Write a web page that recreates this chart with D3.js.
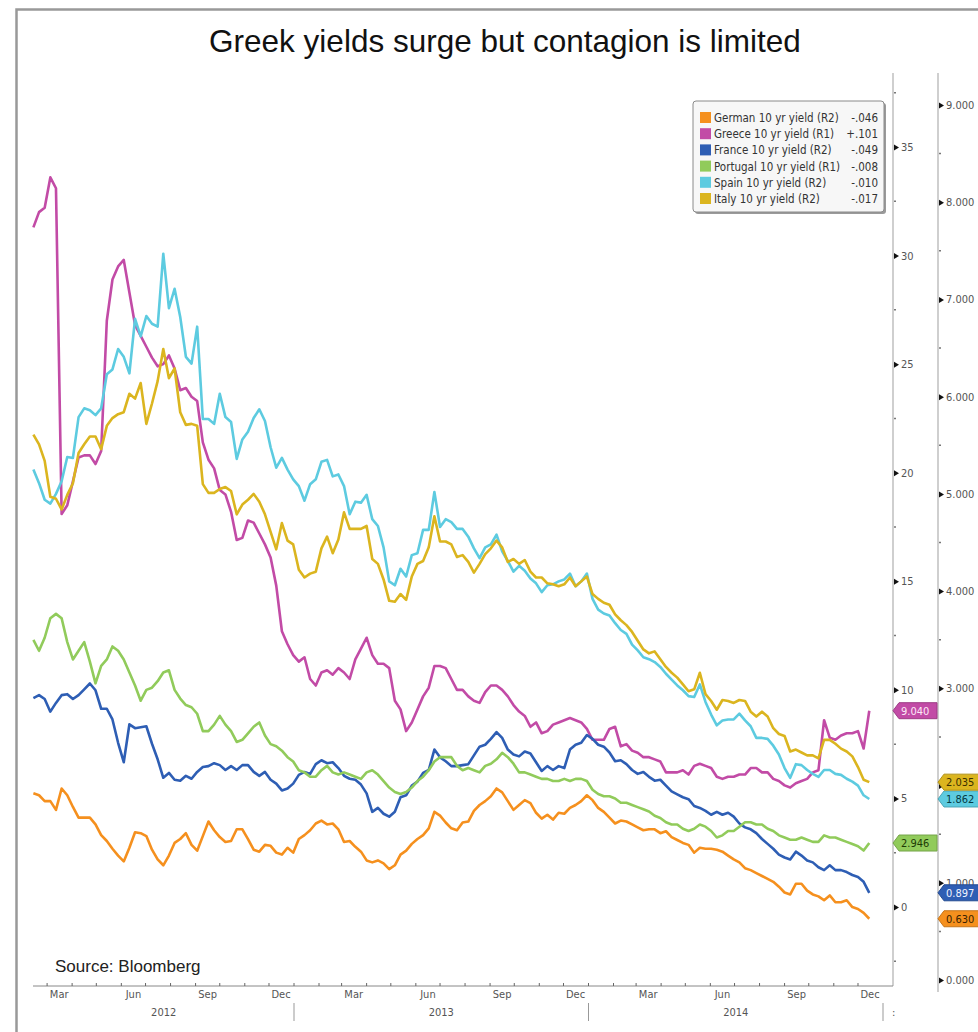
<!DOCTYPE html>
<html>
<head>
<meta charset="utf-8">
<script src="https://cdn.jsdelivr.net/npm/d3@7"></script>
<style>
  body { margin: 0; background: #fff; }
  svg { display: block; }
  .bbg { font-family: "DejaVu Sans Condensed", "DejaVu Sans", sans-serif; font-stretch: condensed; }
</style>
</head>
<body>
<svg id="chart" width="978" height="1032"></svg>
<script>
// weekly closes, first one on 13 Feb 2012
const startDate = new Date(2012, 1, 13);

const german = [
  1.92,1.90,1.84,1.84,1.75,1.97,1.90,1.78,1.67,1.67,
  1.67,1.60,1.49,1.43,1.35,1.28,1.22,1.36,1.52,1.51,
  1.48,1.34,1.24,1.18,1.28,1.41,
  1.45,1.51,1.39,1.33,1.48,1.63,1.54,1.47,1.42,1.43,
  1.55,1.55,1.45,1.34,1.32,1.39,1.38,1.31,1.29,1.36,
  1.31,1.45,1.49,1.54,1.61,
  1.64,1.60,1.61,1.55,1.42,1.43,1.37,1.32,1.23,1.21,
  1.23,1.20,1.14,1.18,1.29,1.33,1.40,1.45,1.49,1.56,
  1.73,1.69,1.62,1.56,1.54,
  1.62,1.63,1.74,1.80,1.84,1.89,1.97,1.93,1.84,1.75,
  1.80,1.85,1.82,1.72,1.66,1.70,1.65,1.72,1.71,1.77,
  1.80,1.84,1.90,1.85,1.77,
  1.73,1.67,1.61,1.64,1.63,1.60,1.57,1.54,1.55,1.55,
  1.51,1.53,1.47,1.44,1.41,1.39,1.31,1.36,1.35,1.35,
  1.34,1.32,1.28,1.24,1.21,
  1.15,1.13,1.10,1.07,1.04,1.01,0.96,0.90,0.88,0.99,
  0.99,0.92,0.88,0.86,0.82,0.87,0.80,0.80,0.82,0.75,
  0.73,0.69,0.63
];

const greece = [
  31.3,32.0,32.2,33.6,33.1,18.1,18.5,19.6,20.7,20.8,
  20.8,20.4,21.0,27.0,28.9,29.5,29.8,28.3,26.8,26.3,
  25.8,25.3,24.9,25.0,25.4,24.8,
  23.8,23.9,23.5,23.3,21.4,20.6,20.2,19.2,19.0,18.2,
  16.9,17.0,17.8,17.7,17.2,16.7,16.1,14.8,12.7,12.1,
  11.6,11.3,11.5,10.5,10.2,
  10.8,10.9,10.7,11.0,10.8,10.5,11.4,11.9,12.4,11.6,
  11.2,11.2,11.0,9.5,9.1,8.1,8.5,9.1,9.7,10.1,
  11.1,11.1,11.0,10.5,10.0,
  10.0,9.7,9.5,9.4,9.9,10.2,10.2,10.0,9.7,9.3,
  9.0,8.8,8.3,8.5,8.0,8.1,8.4,8.5,8.6,8.7,
  8.6,8.5,8.2,7.7,7.7,
  7.7,8.2,8.3,7.4,7.5,7.2,7.1,6.9,6.9,6.8,
  6.7,6.2,6.2,6.2,6.3,6.1,6.5,6.6,6.5,6.4,
  6.0,5.9,6.0,6.0,6.1,
  6.1,6.4,6.4,6.2,6.2,5.9,5.8,5.6,5.5,5.7,
  5.8,5.9,6.2,6.3,8.6,7.8,7.7,7.9,8.0,8.0,
  8.1,7.3,9.04
];

const france = [
  2.90,2.93,2.89,2.76,2.85,2.93,2.94,2.89,2.93,2.99,
  3.05,2.98,2.79,2.79,2.68,2.44,2.24,2.63,2.59,2.60,
  2.61,2.43,2.27,2.08,2.13,2.06,
  2.05,2.10,2.07,2.14,2.19,2.20,2.23,2.21,2.16,2.20,
  2.16,2.21,2.21,2.14,2.10,2.14,2.06,2.02,1.95,1.97,
  2.02,2.11,2.14,2.12,2.22,
  2.26,2.23,2.24,2.18,2.10,2.07,2.06,2.01,1.92,1.73,
  1.77,1.71,1.68,1.73,1.88,1.90,2.00,2.04,2.13,2.16,
  2.37,2.29,2.25,2.20,2.20,
  2.21,2.22,2.31,2.40,2.42,2.48,2.55,2.49,2.37,2.32,
  2.30,2.35,2.33,2.24,2.15,2.20,2.16,2.20,2.18,2.37,
  2.42,2.44,2.52,2.48,2.42,
  2.40,2.34,2.25,2.26,2.22,2.16,2.12,2.14,2.09,2.05,
  2.06,2.00,1.94,1.91,1.88,1.86,1.79,1.77,1.74,1.70,
  1.73,1.70,1.72,1.68,1.61,
  1.57,1.55,1.51,1.45,1.40,1.35,1.29,1.26,1.24,1.32,
  1.28,1.23,1.21,1.16,1.13,1.18,1.13,1.13,1.11,1.08,
  1.06,1.01,0.897
];

const portugal = [
  12.3,11.8,12.4,13.3,13.5,13.3,12.2,11.4,11.8,12.2,
  11.3,10.3,11.1,11.4,12.0,11.8,11.4,10.8,10.2,9.5,
  10.0,10.1,10.4,10.8,10.9,10.0,
  9.6,9.3,9.2,8.9,8.1,8.1,8.4,8.8,8.4,8.1,
  7.6,7.7,8.0,8.3,8.5,7.9,7.5,7.4,7.2,6.9,
  6.7,6.3,6.2,6.0,6.0,
  6.3,6.5,6.2,6.1,6.2,6.1,6.0,5.9,6.2,6.3,
  6.1,5.8,5.5,5.3,5.2,5.3,5.5,5.8,6.0,6.3,
  6.7,6.9,6.9,6.9,6.5,
  6.3,6.4,6.3,6.2,6.5,6.6,6.8,7.1,6.9,6.6,
  6.2,6.2,6.1,6.0,5.9,5.9,5.8,5.8,5.9,5.8,
  5.9,5.9,5.8,5.4,5.2,
  5.1,5.1,5.0,4.8,4.8,4.7,4.6,4.5,4.4,4.2,
  4.1,3.9,3.8,3.8,3.6,3.5,3.6,3.8,3.7,3.5,
  3.2,3.3,3.5,3.5,3.7,
  3.9,3.9,3.8,3.8,3.6,3.5,3.3,3.2,3.1,3.1,
  3.2,3.1,3.0,3.0,3.3,3.2,3.2,3.1,3.0,2.9,
  2.8,2.6,2.946
];

const spain = [
  5.25,5.11,4.94,4.90,5.00,5.13,5.38,5.37,5.79,5.88,
  5.86,5.81,5.88,6.23,6.28,6.49,6.41,6.24,6.80,6.62,
  6.83,6.75,6.72,7.47,6.91,7.11,
  6.82,6.41,6.34,6.72,5.77,5.77,5.72,6.03,5.79,5.74,
  5.36,5.56,5.64,5.78,5.87,5.75,5.48,5.27,5.37,5.25,
  5.15,5.08,4.93,5.10,5.15,
  5.33,5.35,5.18,5.20,5.08,4.79,4.92,4.91,4.99,4.74,
  4.67,4.45,4.10,4.06,4.23,4.15,4.37,4.39,4.63,4.63,
  5.02,4.66,4.74,4.71,4.64,
  4.64,4.56,4.44,4.34,4.45,4.48,4.58,4.41,4.31,4.20,
  4.26,4.21,4.13,4.08,3.99,4.06,4.07,4.10,4.12,4.18,
  4.05,4.10,4.18,3.92,3.81,
  3.77,3.75,3.67,3.60,3.56,3.45,3.39,3.32,3.30,3.27,
  3.22,3.15,3.09,3.03,2.98,2.92,2.91,3.04,2.86,2.73,
  2.62,2.67,2.68,2.68,2.74,
  2.67,2.61,2.49,2.49,2.48,2.41,2.32,2.18,2.08,2.22,
  2.21,2.16,2.12,2.09,2.16,2.16,2.12,2.11,2.07,2.04,
  2.00,1.90,1.862
];

const italy = [
  5.61,5.51,5.34,4.97,4.95,4.84,4.99,5.11,5.42,5.51,
  5.59,5.59,5.46,5.70,5.78,5.82,5.84,6.03,5.98,6.14,
  5.72,5.93,6.16,6.49,6.19,6.29,
  5.84,5.71,5.72,5.70,5.10,5.01,5.01,5.05,5.07,5.03,
  4.79,4.89,4.94,5.00,4.92,4.79,4.61,4.43,4.70,4.52,
  4.48,4.22,4.14,4.18,4.20,
  4.44,4.56,4.39,4.53,4.81,4.64,4.64,4.64,4.67,4.33,
  4.28,4.12,3.90,3.89,3.97,3.91,4.15,4.28,4.31,4.45,
  4.77,4.51,4.51,4.48,4.35,
  4.37,4.30,4.19,4.28,4.38,4.44,4.52,4.45,4.30,4.33,
  4.28,4.32,4.20,4.14,4.14,4.08,4.07,4.05,4.07,4.14,
  4.05,4.10,4.15,3.97,3.92,
  3.88,3.86,3.76,3.70,3.65,3.58,3.49,3.40,3.36,3.38,
  3.30,3.22,3.16,3.11,3.04,2.97,2.99,3.16,2.94,2.87,
  2.78,2.88,2.87,2.85,2.88,
  2.87,2.76,2.71,2.76,2.71,2.59,2.53,2.51,2.35,2.37,
  2.34,2.31,2.31,2.28,2.47,2.47,2.43,2.38,2.35,2.30,
  2.19,2.06,2.035
];

const seriesNames = ['German 10 yr yield (R2)', 'Greece 10 yr yield (R1)', 'France 10 yr yield (R2)',
  'Portugal 10 yr yield (R1)', 'Spain 10 yr yield (R2)', 'Italy 10 yr yield (R2)'];
const seriesChange = ['-.046', '+.101', '-.049', '-.008', '-.010', '-.017'];
const seriesAxis = ['R2', 'R1', 'R2', 'R1', 'R2', 'R2'];
const lastLabels = ['0.630', '9.040', '0.897', '2.946', '1.862', '2.035'];
const r1Ticks = [0, 5, 10, 15, 20, 25, 30, 35];
const r2Ticks = [0, 1, 2, 3, 4, 5, 6, 7, 8, 9];
const r2Hidden = [2];   // label sits fully under the Italy tag

// styling
const colors = ['#f5901e', '#c24ba6', '#2e5eb4', '#91cb5b', '#5dcbe0', '#dbb51f'];
const tagInk = ['#3a2200', '#fde8f6', '#eef2ff', '#1e3a05', '#063a44', '#3b3000'];

const values = [german, greece, france, portugal, spain, italy];
const dates = german.map((v, i) => d3.timeDay.offset(startDate, 7 * i));

const svg = d3.select('#chart');

const x = d3.scaleTime()
  .domain([new Date(2013, 0, 1), new Date(2015, 0, 1)])
  .range([294, 883]);
const y1 = d3.scaleLinear().domain([0, 35]).range([907, 147]);
const y2 = d3.scaleLinear().domain([0, 9]).range([980, 105]);
const yFor = a => (a === 'R1' ? y1 : y2);

// outer frame
svg.append('path')
  .attr('d', 'M16.5,1032 V9.5 H978')
  .attr('fill', 'none')
  .attr('stroke', '#999')
  .attr('stroke-width', 2.5);

svg.append('text')
  .attr('x', 505)
  .attr('y', 52)
  .attr('text-anchor', 'middle')
  .style('font-family', '"Liberation Sans", Arial, sans-serif')
  .style('font-size', '31.5px')
  .style('fill', '#111')
  .text('Greek yields surge but contagion is limited');

// right axes
function rightAxis(scale, ticks, xPos, fmt, minorStep, top, bottom) {
  svg.append('line')
    .attr('x1', xPos).attr('x2', xPos)
    .attr('y1', top).attr('y2', bottom)
    .attr('stroke', '#cfcfcf')
    .attr('stroke-width', 2);

  const g = svg.append('g')
    .attr('class', 'bbg')
    .attr('transform', `translate(${xPos},0)`)
    .call(d3.axisRight(scale).tickValues(ticks).tickSize(0).tickPadding(8).tickFormat(fmt));
  g.select('.domain').remove();
  g.selectAll('text').style('font-size', '11px').style('fill', '#555');
  g.selectAll('.tick').append('path')
    .attr('d', 'M1,-3L6,0L1,3Z')
    .attr('fill', '#111');

  const lo = scale.invert(bottom), hi = scale.invert(top);
  const minor = d3.range(Math.ceil(lo / minorStep) * minorStep, hi, minorStep)
    .filter(v => Math.abs(v / (minorStep * 2) - Math.round(v / (minorStep * 2))) > 0.01);
  svg.append('g').selectAll('line')
    .data(minor)
    .enter()
    .append('line')
    .attr('x1', xPos + 1).attr('x2', xPos + 3)
    .attr('y1', d => scale(d)).attr('y2', d => scale(d))
    .attr('stroke', '#777')
    .attr('stroke-width', 1.5);
  return g;
}
rightAxis(y1, r1Ticks, 893, d3.format('d'), 2.5, 73, 986);
const r2Axis = rightAxis(y2, r2Ticks, 938, d3.format('.3f'), 0.5, 73, 992);
r2Axis.selectAll('.tick')
  .filter(d => r2Hidden.includes(d))
  .select('text')
  .remove();

// bottom axis
svg.append('line')
  .attr('x1', 33).attr('x2', 893)
  .attr('y1', 986).attr('y2', 986)
  .attr('stroke', '#888')
  .attr('stroke-width', 1);

const months = d3.timeMonth.range(new Date(2012, 2, 1), new Date(2015, 0, 1));
svg.append('g').selectAll('line')
  .data(months)
  .enter()
  .append('line')
  .attr('x1', d => x(d)).attr('x2', d => x(d))
  .attr('y1', 983).attr('y2', 986)
  .attr('stroke', '#666');

const bottom = svg.append('g').attr('class', 'bbg')
  .style('font-size', '11px').style('fill', '#555');
bottom.selectAll('.mlab')
  .data(months.filter(d => d.getMonth() % 3 === 2))
  .enter()
  .append('text')
  .attr('class', 'mlab')
  .attr('x', d => x(d3.timeDay.offset(d, 15)))
  .attr('y', 998)
  .attr('text-anchor', 'middle')
  .text(d3.timeFormat('%b'));

const years = [2012, 2013, 2014];
bottom.selectAll('.ylab')
  .data(years)
  .enter()
  .append('text')
  .attr('class', 'ylab')
  .attr('x', d => {
    const a = Math.max(x(new Date(d, 0, 1)), x(startDate));
    return (a + x(new Date(d + 1, 0, 1))) / 2;
  })
  .attr('y', 1016)
  .attr('text-anchor', 'middle')
  .text(d => d);
svg.append('g').selectAll('line')
  .data([2013, 2014, 2015])
  .enter()
  .append('line')
  .attr('x1', d => x(new Date(d, 0, 1))).attr('x2', d => x(new Date(d, 0, 1)))
  .attr('y1', 1003).attr('y2', 1021)
  .attr('stroke', '#999');
bottom.append('text').attr('x', 892).attr('y', 1016).text(':');

svg.append('text')
  .attr('x', 55)
  .attr('y', 972)
  .style('font-family', '"Liberation Sans", Arial, sans-serif')
  .style('font-size', '17px')
  .style('fill', '#222')
  .text('Source: Bloomberg');

// lines
values.forEach((vals, k) => {
  const ys = yFor(seriesAxis[k]);
  const line = d3.line()
    .x((d, i) => x(dates[i]))
    .y(d => ys(d));
  svg.append('path')
    .datum(vals)
    .attr('d', line)
    .attr('fill', 'none')
    .attr('stroke', colors[k])
    .attr('stroke-width', 2.6)
    .attr('stroke-linejoin', 'round');
});

// last-value tags
values.forEach((vals, k) => {
  const r1 = seriesAxis[k] === 'R1';
  const tip = r1 ? 893 : 938;
  const w = r1 ? 44 : 46;
  const yy = yFor(seriesAxis[k])(vals[vals.length - 1]);
  const g = svg.append('g').attr('transform', `translate(${tip},${yy})`);
  g.append('path')
    .attr('d', `M0,0L6,-8H${w}V8H6Z`)
    .attr('fill', colors[k])
    .attr('stroke', d3.color(colors[k]).darker(0.6))
    .attr('stroke-width', 1);
  g.append('text')
    .attr('class', 'bbg')
    .attr('x', 8)
    .attr('y', 4)
    .style('font-size', '11px')
    .style('fill', tagInk[k])
    .text(lastLabels[k]);
});

// legend
const lg = svg.append('g').attr('transform', 'translate(693,101)');
lg.append('rect')
  .attr('x', 2).attr('y', 2)
  .attr('width', 191).attr('height', 111)
  .attr('rx', 3)
  .attr('fill', '#9a9a9a');
lg.append('rect')
  .attr('width', 191).attr('height', 111)
  .attr('rx', 3)
  .attr('fill', '#f7f7f7')
  .attr('stroke', '#8a8a8a');
const item = lg.selectAll('.item')
  .data(seriesNames)
  .enter()
  .append('g')
  .attr('class', 'item bbg')
  .attr('transform', (d, i) => `translate(0,${17 + i * 16.2})`);
item.append('rect')
  .attr('x', 7).attr('y', -6)
  .attr('width', 11).attr('height', 11)
  .attr('fill', (d, i) => colors[i]);
item.append('text')
  .attr('x', 21).attr('y', 4)
  .style('font-size', '11.5px')
  .style('fill', '#333')
  .text(d => d);
item.append('text')
  .attr('x', 185).attr('y', 4)
  .attr('text-anchor', 'end')
  .style('font-size', '11.5px')
  .style('fill', '#333')
  .text((d, i) => seriesChange[i]);
</script>
</body>
</html>
